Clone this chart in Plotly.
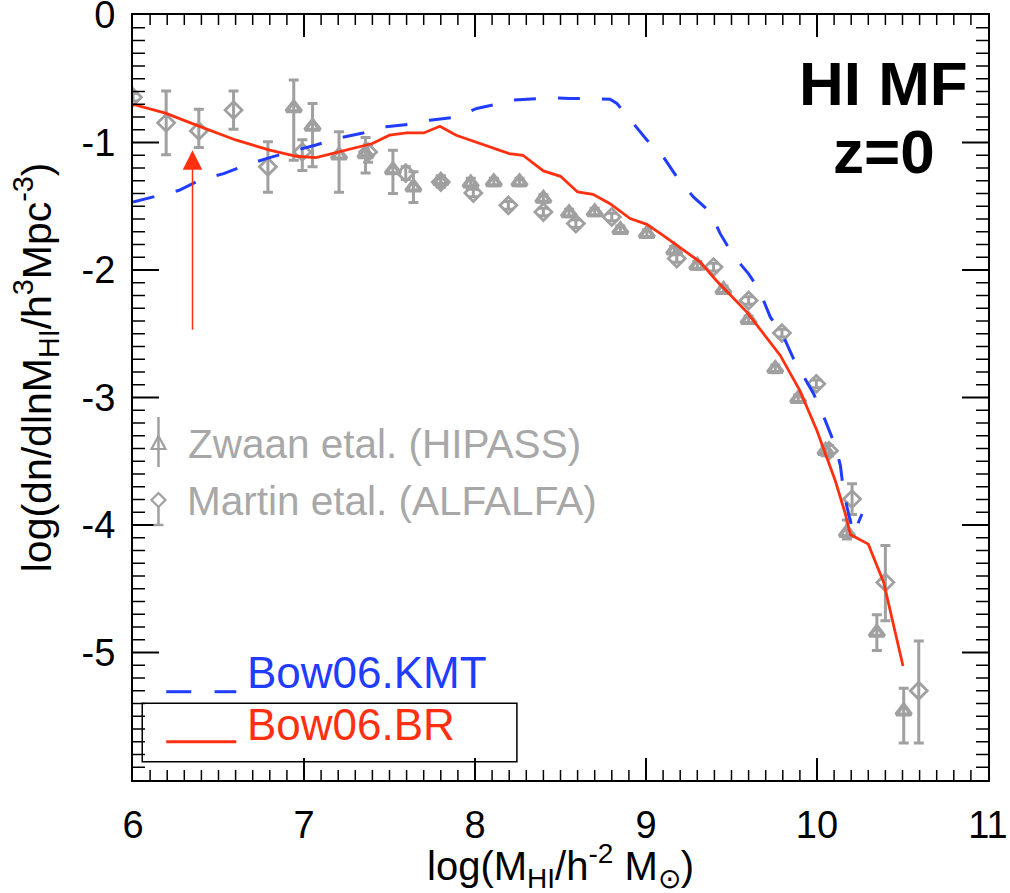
import plotly.graph_objects as go

# ---------------- data ----------------
# Model: Bow06.BR (solid red)
br_x = [6.0, 6.19, 6.37, 6.60, 6.80, 6.955, 7.07, 7.21, 7.33, 7.40, 7.50, 7.60, 7.70, 7.795,
        7.89, 8.07, 8.20, 8.28, 8.40, 8.50, 8.60, 8.69, 8.79, 8.907, 9.005, 9.10, 9.21,
        9.317, 9.41, 9.59, 9.785, 9.90, 10.0, 10.107, 10.166, 10.195, 10.30, 10.39, 10.503]
br_y = [-0.70, -0.77, -0.864, -0.98, -1.06, -1.108, -1.118, -1.07, -1.03, -1.008, -0.943,
        -0.925, -0.925, -0.872, -0.943, -1.03, -1.087, -1.10, -1.223, -1.265, -1.388, -1.406,
        -1.48, -1.597, -1.642, -1.728, -1.833, -1.938, -2.08, -2.33, -2.67, -2.946, -3.26,
        -3.653, -3.914, -4.075, -4.15, -4.45, -5.106]

# Model: Bow06.KMT (dashed blue)
kmt_x = [6.0, 6.077, 6.27, 6.39, 6.53, 6.66, 6.78, 6.916, 7.07, 7.19, 7.345, 7.48, 7.62, 7.736,
         7.89, 8.01, 8.146, 8.20, 8.26, 8.44, 8.555, 8.71, 8.79, 8.83, 8.926, 9.005, 9.10,
         9.18, 9.277, 9.375, 9.434, 9.51, 9.60, 9.66, 9.727, 9.80, 9.863, 9.98, 10.048,
         10.107, 10.137, 10.156, 10.185, 10.214, 10.263]
kmt_y = [-1.467, -1.44, -1.375, -1.296, -1.244, -1.178, -1.126, -1.074, -1.02, -0.969, -0.925,
         -0.877, -0.856, -0.825, -0.80, -0.733, -0.694, -0.668, -0.662, -0.65, -0.654, -0.66,
         -0.66, -0.694, -0.85, -0.98, -1.11, -1.27, -1.427, -1.545, -1.715, -1.885, -2.03,
         -2.15, -2.37, -2.51, -2.697, -2.97, -3.18, -3.378, -3.535, -3.745, -3.914, -4.07,
         -3.914]

# Observations: Zwaan et al. (HIPASS) - triangles
zw_x = [6.94, 7.05, 7.205, 7.36, 7.52, 7.64, 7.80, 7.975, 8.11, 8.26, 8.40, 8.55, 8.70, 8.85,
        9.005, 9.165, 9.30, 9.453, 9.60, 9.756, 9.89, 10.05, 10.175, 10.35, 10.507]
zw_y = [-0.73, -0.875, -1.10, -1.09, -1.215, -1.35, -1.30, -1.32, -1.31, -1.31, -1.44, -1.553,
        -1.545, -1.684, -1.715, -1.846, -1.964, -2.155, -2.39, -2.775, -3.01, -3.417, -4.06,
        -4.844, -5.46]
zw_ep = [0.22, 0.18, 0.185, 0.13, 0.155, 0.12, 0.04, 0.04, 0.03, 0.03, 0.03, 0.03, 0.03, 0.03,
         0.03, 0.03, 0.03, 0.03, 0.03, 0.03, 0.03, 0.04, 0.10, 0.14, 0.18]
zw_em = [0.41, 0.315, 0.29, 0.15, 0.185, 0.12, 0.04, 0.04, 0.03, 0.03, 0.03, 0.03, 0.03, 0.03,
         0.03, 0.03, 0.03, 0.03, 0.03, 0.03, 0.03, 0.04, 0.05, 0.14, 0.25]

# Observations: Martin et al. (ALFALFA) - diamonds
mt_x = [6.0, 6.194, 6.385, 6.588, 6.789, 6.99, 7.375, 7.595, 7.80, 7.99, 8.195, 8.40, 8.59,
        8.80, 9.18, 9.395, 9.60, 9.795, 9.996, 10.07, 10.205, 10.40, 10.595]
mt_y = [-0.645, -0.846, -0.909, -0.746, -1.19, -1.074, -1.075, -1.24, -1.31, -1.396, -1.493,
        -1.545, -1.636, -1.584, -1.91, -1.977, -2.239, -2.495, -2.893, -3.417, -3.797, -4.45,
        -5.30]
mt_ep = [0.03, 0.25, 0.17, 0.15, 0.195, 0.095, 0.06, 0.05, 0.04, 0.03, 0.03, 0.03, 0.03, 0.03,
         0.03, 0.03, 0.03, 0.03, 0.03, 0.04, 0.12, 0.29, 0.39]
mt_em = [0.03, 0.25, 0.13, 0.15, 0.20, 0.145, 0.08, 0.05, 0.04, 0.03, 0.03, 0.03, 0.03, 0.03,
         0.03, 0.03, 0.03, 0.03, 0.03, 0.04, 0.12, 0.30, 0.41]

# axes
x_range = [6, 11]
y_range = [-6, 0]
x_ticks = [6, 7, 8, 9, 10, 11]
y_ticks = [0, -1, -2, -3, -4, -5]
minor_per_major = 10

# arrow marking the resolution limit
arrow_x = 6.348
arrow_tip, arrow_tail = -1.06, -2.48

# ---------------- layout geometry / style ----------------
W, H = 1010, 893
M_L, M_R, M_T, M_B = 133, 22, 15, 113
PLOT_W = W - M_L - M_R
PLOT_H = H - M_T - M_B
PX_PER_X = PLOT_W / (x_range[1] - x_range[0])
PX_PER_Y = PLOT_H / (y_range[1] - y_range[0])

FONT = "Liberation Sans, Arial, Helvetica, sans-serif"
GREY = "#a0a0a0"
GREY_TXT = "#a8a8a8"
RED = "#ff3010"
BLUE = "#1f3cff"

fig = go.Figure()

fig.add_trace(go.Scatter(
    x=zw_x, y=zw_y, mode="markers",
    marker=dict(symbol="triangle-up-open", size=13, color=GREY, line=dict(width=4, color=GREY)),
    error_y=dict(type="data", symmetric=False, array=zw_ep, arrayminus=zw_em,
                 color=GREY, thickness=3, width=5),
    showlegend=False, cliponaxis=True))

fig.add_trace(go.Scatter(
    x=mt_x, y=mt_y, mode="markers",
    marker=dict(symbol="diamond-open", size=13, color=GREY, line=dict(width=2.8, color=GREY)),
    error_y=dict(type="data", symmetric=False, array=mt_ep, arrayminus=mt_em,
                 color=GREY, thickness=3, width=5),
    showlegend=False, cliponaxis=True))

fig.add_trace(go.Scatter(
    x=kmt_x, y=kmt_y, mode="lines",
    line=dict(color=BLUE, width=3, dash="22px,22px"),
    showlegend=False))

fig.add_trace(go.Scatter(
    x=br_x, y=br_y, mode="lines",
    line=dict(color=RED, width=2.8),
    showlegend=False))


# ---- inward tick marks on all four sides, drawn as short line segments ----
def x_tick_trace(vals, len_px, width):
    L = len_px / PX_PER_Y
    xs, ys = [], []
    for v in vals:
        xs += [v, v, None, v, v, None]
        ys += [y_range[0], y_range[0] + L, None, y_range[1], y_range[1] - L, None]
    return go.Scatter(x=xs, y=ys, mode="lines", connectgaps=False, hoverinfo="skip",
                      showlegend=False, line=dict(color="black", width=width))


def y_tick_trace(vals, len_px, width):
    L = len_px / PX_PER_X
    xs, ys = [], []
    for v in vals:
        ys += [v, v, None, v, v, None]
        xs += [x_range[0], x_range[0] + L, None, x_range[1], x_range[1] - L, None]
    return go.Scatter(x=xs, y=ys, mode="lines", connectgaps=False, hoverinfo="skip",
                      showlegend=False, line=dict(color="black", width=width))


n_x = int(round((x_range[1] - x_range[0]) * minor_per_major))
x_minor = [x_range[0] + i / minor_per_major for i in range(1, n_x) if i % minor_per_major]
x_major = [x_range[0] + i / minor_per_major for i in range(1, n_x) if i % minor_per_major == 0]
n_y = int(round((y_range[1] - y_range[0]) * minor_per_major))
y_minor = [y_range[0] + i / minor_per_major for i in range(1, n_y) if i % minor_per_major]
y_major = [y_range[0] + i / minor_per_major for i in range(1, n_y) if i % minor_per_major == 0]

fig.add_trace(x_tick_trace(x_minor, 10, 1.5))
fig.add_trace(x_tick_trace(x_major, 22, 2))
fig.add_trace(y_tick_trace(y_minor, 12, 1.5))
fig.add_trace(y_tick_trace(y_major, 26, 2))


def px_shape(cx, cy, path, color, width, fill=None):
    """legend glyph placed at paper position (cx, cy), path in pixels"""
    d = dict(type="path", xref="paper", yref="paper", xsizemode="pixel", ysizemode="pixel",
             xanchor=cx, yanchor=cy, path=path, line=dict(color=color, width=width))
    if fill:
        d["fillcolor"] = fill
    return d


LX = 0.0298  # legend glyph column (paper)
shapes = [
    px_shape(LX, 0.4405, "M-7,-6 L7,-6 L0,7 Z", GREY, 2.2),
    px_shape(LX, 0.4405, "M0,26 L0,-24", GREY, 2.5),
    px_shape(LX, 0.366, "M-7,0 L0,7 L7,0 L0,-7 Z", GREY, 2.2),
    px_shape(LX, 0.366, "M0,-7 L0,-25 M-5,-25 L5,-25", GREY, 2.5),
    dict(type="line", xref="paper", yref="paper", x0=0.0389, x1=0.0681, y0=0.1154, y1=0.1154,
         line=dict(color=BLUE, width=3)),
    dict(type="line", xref="paper", yref="paper", x0=0.0954, x1=0.1208, y0=0.1154, y1=0.1154,
         line=dict(color=BLUE, width=3)),
    dict(type="line", xref="paper", yref="paper", x0=0.0389, x1=0.1208, y0=0.0501, y1=0.0501,
         line=dict(color=RED, width=3)),
    dict(type="rect", xref="paper", yref="paper", x0=0.0108, x1=0.449, y0=0.0239, y1=0.1003,
         line=dict(color="black", width=1.5)),
]

annotations = [
    dict(x=arrow_x, y=arrow_tip, ax=arrow_x, ay=arrow_tail, xref="x", yref="y",
         axref="x", ayref="y", showarrow=True, arrowhead=2, arrowsize=2.6,
         arrowwidth=1.5, arrowcolor=RED, text=""),
    dict(x=10.39, y=0.911, xref="x", yref="paper", text="<b>HI MF</b>", showarrow=False,
         font=dict(family=FONT, size=62, color="black"), xanchor="center", yanchor="middle"),
    dict(x=10.39, y=0.822, xref="x", yref="paper", text="<b>z=0</b>", showarrow=False,
         font=dict(family=FONT, size=62, color="black"), xanchor="center", yanchor="middle"),
    dict(x=0.0625, y=0.4392, xref="paper", yref="paper", text="Zwaan etal. (HIPASS)",
         showarrow=False, font=dict(family=FONT, size=40.5, color=GREY_TXT),
         xanchor="left", yanchor="middle"),
    dict(x=0.061, y=0.365, xref="paper", yref="paper", text="Martin etal. (ALFALFA)",
         showarrow=False, font=dict(family=FONT, size=40.5, color=GREY_TXT),
         xanchor="left", yanchor="middle"),
    dict(x=0.1305, y=0.1401, xref="paper", yref="paper", text="Bow06.KMT",
         showarrow=False, font=dict(family=FONT, size=44, color=BLUE),
         xanchor="left", yanchor="middle"),
    dict(x=0.1305, y=0.0732, xref="paper", yref="paper", text="Bow06.BR",
         showarrow=False, font=dict(family=FONT, size=44, color=RED),
         xanchor="left", yanchor="middle"),
    # axis titles
    dict(x=-0.113, y=0.54, xref="paper", yref="paper", textangle=-90,
         text="log(dn/dlnM<sub>HI</sub>/h<sup>3</sup>Mpc<sup>-3</sup>)", showarrow=False,
         font=dict(family=FONT, size=41, color="black"), xanchor="center", yanchor="middle"),
    dict(x=0.5, y=-0.112, xref="paper", yref="paper",
         text="log(M<sub>HI</sub>/h<sup>-2</sup> M<sub>⊙</sub>)", showarrow=False,
         font=dict(family=FONT, size=40, color="black"), xanchor="center", yanchor="middle"),
]

axis_common = dict(
    showgrid=False, zeroline=False, showline=True, linecolor="black", linewidth=2,
    mirror=True, ticks="", ticklabeloverflow="allow",
    tickfont=dict(family=FONT, size=38, color="black"),
)

fig.update_layout(
    width=W, height=H,
    margin=dict(l=M_L, r=M_R, t=M_T, b=M_B, autoexpand=False),
    paper_bgcolor="white", plot_bgcolor="white",
    font=dict(family=FONT, color="black"),
    xaxis=dict(range=x_range, tickvals=x_ticks, ticktext=[str(v) for v in x_ticks],
               ticklabelstandoff=10, **axis_common),
    yaxis=dict(range=y_range, tickvals=y_ticks, ticktext=[str(v) for v in y_ticks],
               ticklabelstandoff=8, **axis_common),
    shapes=shapes,
    annotations=annotations,
)

fig.write_html("out.html")
